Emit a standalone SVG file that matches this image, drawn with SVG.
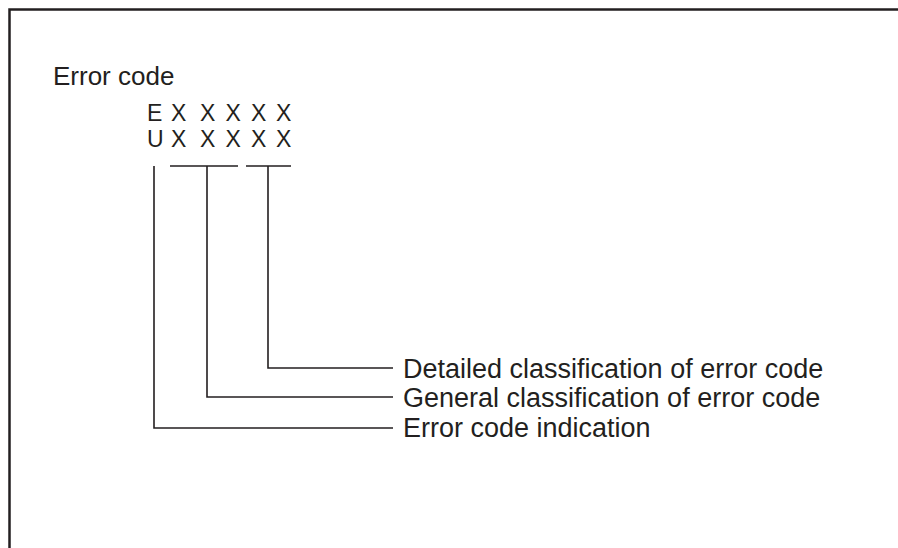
<svg xmlns="http://www.w3.org/2000/svg" width="898" height="548" viewBox="0 0 898 548">
<style>
text{font-family:"Liberation Sans",Arial,sans-serif;font-size:27px;fill:#231f20}
.title{font-size:26px}
.code{font-size:23px}
.ln{stroke:#231f20;stroke-width:1.6;fill:none}
</style>
<rect x="0" y="0" width="898" height="548" fill="#fff"/>
<g id="frame"><path class="ln" d="M9.5,548 V9.5 H898" style="stroke-width:2.5"/></g>
<g id="title"><text class="title" x="53" y="85">Error code</text></g>
<g id="code">
<text class="code" x="147 171 200 225.5 251 276" y="120.5">EXXXXX</text>
<text class="code" x="147 171 200 225.5 251 276" y="146.5">UXXXXX</text>
</g>
<g id="connectors">
<path class="ln" d="M170,166 H238 M246,166 H291"/>
<path class="ln" d="M268,166 V368 H393"/>
<path class="ln" d="M207,166 V397 H393"/>
<path class="ln" d="M154,166 V428 H393"/>
</g>
<g id="label-detailed"><text x="403" y="377.5">Detailed classification of error code</text></g>
<g id="label-general"><text x="403" y="406.5">General classification of error code</text></g>
<g id="label-indication"><text x="403" y="437">Error code indication</text></g>
</svg>
